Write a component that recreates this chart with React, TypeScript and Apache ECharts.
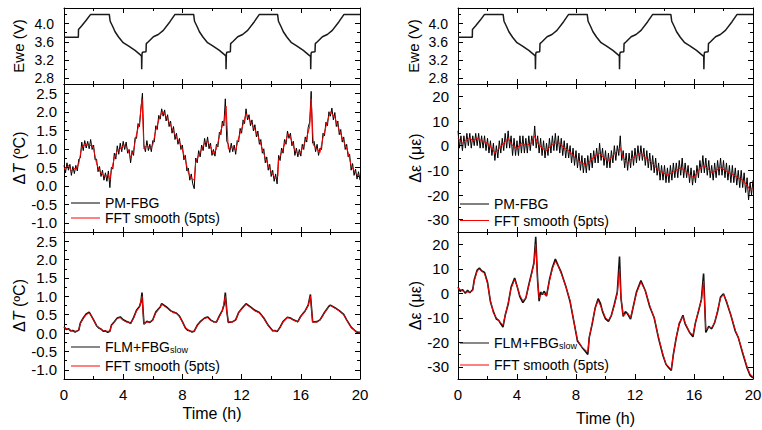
import React, { useEffect, useRef } from 'react';
import * as echarts from 'echarts';

const FONT = '"Liberation Sans", Arial, Helvetica, sans-serif';
const INK = '#000000';
const RED = '#ff0000';

// ---------- tick values ----------
const eweMajor = [2.8, 3.2, 3.6, 4.0];
const eweMinor = [3.0, 3.4, 3.8, 4.2];
const dTMajor = [-1.0, -0.5, 0, 0.5, 1.0, 1.5, 2.0, 2.5];
const dTMinor = [-0.75, -0.25, 0.25, 0.75, 1.25, 1.75, 2.25];
const dEMajor = [-30, -20, -10, 0, 10, 20];
const dEMinor = [-25, -15, -5, 5, 15];

// ---------- cell voltage (h, V) ----------
const eweCurve: [number, number][] = [
  [0, 3.7], [0.97, 3.7], [0.98, 3.87], [1.2, 3.95], [1.5, 4.07], [1.8, 4.2],
  [3.06, 4.2], [3.12, 4.05], [3.3, 3.93], [3.45, 3.82], [3.7, 3.7], [4.0, 3.58], [4.35, 3.51],
  [4.8, 3.41], [5.14, 3.32], [5.24, 3.28], [5.25, 3.0], [5.27, 3.33], [5.3, 3.37], [5.54, 3.38],
  [5.56, 3.56], [5.7, 3.6], [6.04, 3.71], [6.37, 3.76], [6.71, 3.85], [7.16, 4.04], [7.5, 4.2],
  [8.76, 4.2], [8.82, 4.05], [9.0, 3.93], [9.15, 3.82], [9.4, 3.7], [9.7, 3.58], [10.05, 3.51],
  [10.5, 3.41], [10.84, 3.32], [10.94, 3.28], [10.95, 3.0], [10.97, 3.33], [11.0, 3.37], [11.24, 3.38],
  [11.26, 3.56], [11.4, 3.6], [11.74, 3.71], [12.07, 3.76], [12.41, 3.85], [12.86, 4.04], [13.2, 4.2],
  [14.43, 4.2], [14.49, 4.05], [14.67, 3.93], [14.82, 3.82], [15.07, 3.7], [15.37, 3.58], [15.72, 3.51],
  [16.17, 3.41], [16.51, 3.32], [16.66, 3.28], [16.67, 3.0], [16.69, 3.33], [16.72, 3.37], [16.96, 3.38],
  [16.98, 3.56], [17.12, 3.6], [17.46, 3.71], [17.79, 3.76], [18.13, 3.85], [18.58, 4.04], [18.92, 4.2],
  [20, 4.2],
];

// ---------- ΔT, PM-FBG raw (sampled every 0.1 h) ----------
const dtPmRaw = [
  0.55, 0.35, 0.62, 0.42, 0.58, 0.28, 0.52, 0.33, 0.55, 0.40,
  0.72, 0.75, 1.18, 0.95, 1.22, 1.02, 1.20, 1.00, 1.25, 0.98,
  1.10, 0.70, 0.72, 0.38, 0.52, 0.25, 0.42, 0.15, 0.35, 0.12,
  0.40, -0.05, 0.50, 0.45, 0.88, 0.72, 1.08, 0.85, 1.15, 0.92,
  1.20, 0.98, 1.18, 0.88, 0.98, 0.62, 0.95, 0.82, 1.30, 1.28,
  1.68, 1.60, 2.10, 2.50, 1.10, 0.92, 1.22, 0.95, 1.12, 0.92,
  1.22, 1.18, 1.62, 1.52, 1.90, 1.80, 2.08, 1.88, 2.05, 1.75,
  1.92, 1.60, 1.75, 1.42, 1.60, 1.25, 1.42, 1.12, 1.28, 0.98,
  1.10, 0.70, 0.82, 0.40, 0.48, 0.15, 0.32, 0.05, -0.08, 0.75,
  0.62, 0.95, 0.78, 1.10, 0.95, 1.28, 1.05, 1.32, 1.00, 1.15,
  0.82, 0.98, 0.80, 1.12, 1.05, 1.45, 1.38, 1.75, 1.62, 2.35,
  1.20, 1.12, 0.90, 1.15, 0.92, 1.10, 0.85, 1.22, 1.18, 1.55,
  1.42, 1.78, 1.68, 2.08, 1.78, 1.92, 1.62, 1.78, 1.48, 1.65,
  1.32, 1.48, 1.12, 1.25, 0.88, 1.00, 0.62, 0.78, 0.42, 0.58,
  0.25, 0.42, 0.12, 0.32, 0.05, 0.82, 0.68, 1.02, 0.88, 1.25,
  1.12, 1.48, 1.28, 1.42, 1.08, 1.20, 0.82, 1.02, 0.78, 0.98,
  0.80, 1.12, 0.98, 1.32, 1.18, 1.58, 1.72, 2.55, 1.15, 1.20,
  0.92, 1.12, 0.82, 1.02, 0.98, 1.42, 1.35, 1.72, 1.62, 2.00,
  1.88, 2.10, 1.78, 1.98, 1.60, 1.75, 1.38, 1.52, 1.18, 1.32,
  0.98, 1.12, 0.78, 0.85, 0.42, 0.60, 0.28, 0.45, 0.18, 0.38,
  0.15,
];
const rawStep = 0.1;

// ---------- ΔT, PM-FBG FFT smooth ----------
const dtPmSmooth: [number, number][] = [
  [0, 0.45], [0.15, 0.5], [0.3, 0.55], [0.5, 0.4], [0.65, 0.47], [0.8, 0.45], [1.0, 0.6], [1.2, 1.05],
  [1.35, 1.1], [1.5, 1.12], [1.7, 1.08], [1.9, 1.1], [2.0, 1.0], [2.2, 0.6], [2.4, 0.4], [2.6, 0.3],
  [2.8, 0.25], [3.0, 0.3], [3.1, 0.15], [3.2, 0.4], [3.4, 0.75], [3.6, 0.95], [3.75, 0.98], [3.9, 1.05],
  [4.1, 1.1], [4.3, 1.0], [4.5, 0.75], [4.7, 0.95], [4.9, 1.4], [5.1, 1.7], [5.27, 2.35], [5.4, 1.0],
  [5.6, 1.1], [5.8, 1.0], [6.0, 1.1], [6.2, 1.5], [6.5, 1.9], [6.7, 2.0], [7.0, 1.8], [7.3, 1.55],
  [7.6, 1.3], [7.9, 1.1], [8.2, 0.7], [8.4, 0.35], [8.6, 0.2], [8.8, 0.15], [8.9, 0.65], [9.2, 0.9],
  [9.5, 1.15], [9.7, 1.2], [9.9, 1.05], [10.1, 0.85], [10.3, 1.0], [10.6, 1.5], [10.85, 1.8], [10.95, 2.15],
  [11.1, 1.0], [11.4, 1.05], [11.6, 0.95], [11.8, 1.3], [12.1, 1.65], [12.3, 1.95], [12.5, 1.8], [12.8, 1.6],
  [13.1, 1.35], [13.4, 1.0], [13.6, 0.75], [13.8, 0.55], [14.1, 0.3], [14.3, 0.2], [14.45, 0.25], [14.5, 0.7],
  [14.8, 1.0], [15.1, 1.35], [15.2, 1.4], [15.4, 1.2], [15.6, 0.95], [15.9, 0.85], [16.1, 1.0], [16.4, 1.3],
  [16.6, 1.6], [16.7, 2.35], [16.85, 1.1], [17.1, 1.0], [17.3, 0.9], [17.5, 1.3], [17.8, 1.75], [18.0, 2.0],
  [18.3, 1.85], [18.6, 1.5], [18.9, 1.2], [19.2, 0.9], [19.4, 0.55], [19.6, 0.4], [19.8, 0.3], [20, 0.25],
];

// ---------- ΔT, FLM+FBG slow ----------
const dtFlmRaw: [number, number][] = [
  [0, 0.17], [0.15, 0.1], [0.3, 0.12], [0.45, 0.06], [0.6, 0.07], [0.75, 0.03], [0.9, 0.06], [1.0, 0.08],
  [1.1, 0.27], [1.3, 0.41], [1.5, 0.52], [1.7, 0.57], [1.8, 0.5], [2.0, 0.36], [2.2, 0.2], [2.35, 0.14],
  [2.5, 0.11], [2.65, 0.05], [2.8, 0.06], [2.95, 0.02], [3.1, 0.05], [3.2, 0.21], [3.4, 0.31], [3.6, 0.41],
  [3.8, 0.44], [4.0, 0.36], [4.2, 0.32], [4.4, 0.29], [4.5, 0.26], [4.7, 0.42], [4.9, 0.62], [5.1, 0.72],
  [5.2, 0.85], [5.27, 1.1], [5.4, 0.24], [5.6, 0.32], [5.8, 0.29], [6.0, 0.36], [6.2, 0.57], [6.5, 0.71],
  [6.6, 0.8], [6.9, 0.72], [7.2, 0.61], [7.4, 0.57], [7.6, 0.54], [7.8, 0.46], [8.0, 0.31], [8.2, 0.14],
  [8.35, 0.08], [8.5, 0.06], [8.65, 0.03], [8.8, 0.05], [9.0, 0.21], [9.2, 0.31], [9.5, 0.41], [9.7, 0.44],
  [9.9, 0.36], [10.1, 0.31], [10.3, 0.3], [10.5, 0.47], [10.7, 0.62], [10.82, 0.78], [10.9, 1.1], [11.0, 0.6],
  [11.1, 0.29], [11.4, 0.31], [11.6, 0.36], [11.8, 0.56], [12.1, 0.71], [12.3, 0.8], [12.6, 0.71], [12.9, 0.62],
  [13.2, 0.56], [13.5, 0.41], [13.8, 0.21], [14.1, 0.06], [14.25, 0.07], [14.4, 0.04], [14.6, 0.16], [14.8, 0.31],
  [15.1, 0.43], [15.3, 0.41], [15.5, 0.36], [15.8, 0.31], [16.0, 0.46], [16.3, 0.61], [16.5, 0.76], [16.65, 1.05],
  [16.8, 0.3], [17.1, 0.31], [17.3, 0.36], [17.6, 0.56], [17.9, 0.73], [18.0, 0.76], [18.3, 0.69], [18.6, 0.61],
  [18.9, 0.51], [19.1, 0.36], [19.4, 0.16], [19.7, 0.05], [19.85, 0.01], [20, 0.02],
];
const dtFlmSmooth: [number, number][] = [
  [0, 0.15], [0.3, 0.1], [0.6, 0.05], [0.9, 0.05], [1.0, 0.1], [1.1, 0.25], [1.3, 0.4], [1.5, 0.5],
  [1.7, 0.55], [1.8, 0.5], [2.0, 0.35], [2.2, 0.2], [2.5, 0.1], [2.8, 0.05], [3.1, 0.05], [3.2, 0.2],
  [3.4, 0.3], [3.6, 0.4], [3.8, 0.42], [4.0, 0.35], [4.2, 0.3], [4.4, 0.3], [4.5, 0.25], [4.7, 0.4],
  [4.9, 0.6], [5.1, 0.7], [5.27, 1.0], [5.4, 0.25], [5.6, 0.3], [5.8, 0.3], [6.0, 0.35], [6.2, 0.55],
  [6.5, 0.7], [6.6, 0.78], [6.9, 0.7], [7.2, 0.6], [7.4, 0.55], [7.6, 0.55], [7.8, 0.45], [8.0, 0.3],
  [8.2, 0.15], [8.5, 0.05], [8.8, 0.05], [9.0, 0.2], [9.2, 0.3], [9.5, 0.4], [9.7, 0.42], [9.9, 0.35],
  [10.1, 0.3], [10.3, 0.3], [10.5, 0.45], [10.7, 0.6], [10.9, 1.0], [11.0, 0.6], [11.1, 0.3], [11.4, 0.3],
  [11.6, 0.35], [11.8, 0.55], [12.1, 0.7], [12.3, 0.78], [12.6, 0.7], [12.9, 0.6], [13.2, 0.55], [13.5, 0.4],
  [13.8, 0.2], [14.1, 0.07], [14.4, 0.05], [14.6, 0.15], [14.8, 0.3], [15.1, 0.42], [15.3, 0.4], [15.5, 0.35],
  [15.8, 0.3], [16.0, 0.45], [16.3, 0.6], [16.5, 0.75], [16.65, 1.0], [16.8, 0.3], [17.1, 0.3], [17.3, 0.35],
  [17.6, 0.55], [17.9, 0.72], [18.0, 0.75], [18.3, 0.68], [18.6, 0.6], [18.9, 0.5], [19.1, 0.35], [19.4, 0.15],
  [19.7, 0.05], [20, 0.02],
];

// ---------- Δε, PM-FBG raw (sampled every 0.1 h) ----------
const dePmRaw = [
  6, -1, 4, -2, 4, -1, 5, 0, 5, -1,
  4, 0, 5, 0, 5, -1, 4, -1, 4, -2,
  3, -3, 2, -4, 1, -6, 0, -5, 2, -3,
  3, -2, 5, -1, 6, -1, 4, -4, 3, -4,
  2, -4, 4, -3, 4, -3, 3, -3, 4, -2,
  4, 0, 8, -1, 4, -3, 3, -4, 2, -5,
  1, -4, 3, -3, 4, -2, 5, -2, 4, -3,
  3, -4, 2, -5, 1, -5, 0, -7, -1, -8,
  -2, -9, -3, -10, -4, -11, -5, -11, -4, -10,
  -3, -9, -2, -7, -1, -7, 1, -6, -1, -8,
  -2, -9, -3, -9, -2, -7, 0, -6, 0, -4,
  4, -6, -2, -9, -3, -10, -3, -9, -2, -8,
  -1, -7, 0, -6, 0, -6, -1, -8, -2, -9,
  -3, -10, -4, -11, -5, -12, -7, -14, -8, -14,
  -8, -15, -9, -15, -8, -14, -7, -13, -7, -13,
  -6, -12, -5, -13, -7, -13, -8, -15, -9, -16,
  -10, -15, -8, -13, -6, -11, -4, -11, -5, -12,
  -6, -13, -8, -14, -7, -13, -6, -12, -5, -12,
  -6, -13, -7, -14, -8, -15, -8, -15, -9, -16,
  -10, -17, -10, -17, -11, -19, -13, -22, -15, -20,
  -14,
];
const dePmSmooth: [number, number][] = [
  [0, 3], [0.3, 1], [0.5, 2], [0.8, 3], [1.0, 2], [1.3, 3], [1.6, 2], [2.0, 1], [2.3, -1], [2.5, -3],
  [2.8, -1], [3.1, 1], [3.4, 3], [3.7, 0], [4.0, -1], [4.3, 1], [4.6, 0], [5.0, 1], [5.2, 4], [5.4, 1],
  [5.7, -1], [6.0, -2], [6.3, 0], [6.6, 1], [6.9, 1], [7.2, -1], [7.5, -2], [7.8, -4], [8.1, -6], [8.4, -7],
  [8.7, -8], [9.0, -6], [9.3, -4], [9.6, -3], [9.9, -5], [10.2, -6], [10.5, -4], [10.8, -2], [11.0, -1], [11.2, -5],
  [11.5, -7], [11.8, -5], [12.1, -4], [12.4, -3], [12.7, -5], [13.0, -6], [13.3, -8], [13.6, -10], [13.9, -11], [14.2, -12],
  [14.5, -11], [14.8, -10], [15.1, -9], [15.4, -10], [15.7, -12], [16.0, -13], [16.3, -10], [16.6, -8], [16.9, -9], [17.2, -11],
  [17.5, -10], [17.8, -9], [18.1, -10], [18.4, -11], [18.7, -12], [19.0, -13], [19.3, -14], [19.6, -16], [19.8, -18], [20, -17],
];

// ---------- Δε, FLM+FBG slow ----------
const deFlmRaw: [number, number][] = [
  [0, 2.5], [0.15, 0.8], [0.3, 1.5], [0.5, 0], [0.65, 1.2], [0.8, 0.2], [1.0, 1.5], [1.1, 5.5], [1.3, 9.5],
  [1.45, 10.3], [1.6, 9.2], [1.8, 8.5], [2.0, 4.5], [2.2, -3.5], [2.4, -7.5], [2.6, -10.5], [2.75, -11],
  [2.9, -12.5], [3.05, -13.8], [3.2, -9], [3.4, -4.5], [3.6, 2.5], [3.84, 6.2], [4.0, 3], [4.2, -1.5],
  [4.4, -3.8], [4.6, -2], [4.8, 3.5], [5.0, 8.5], [5.15, 12.5], [5.27, 23], [5.4, 5], [5.5, -3.2],
  [5.6, 0.5], [5.7, -0.5], [5.85, 0.8], [6.0, -1.2], [6.2, 5.5], [6.4, 10.5], [6.6, 14], [6.8, 11.2],
  [7.0, 8.5], [7.3, 3], [7.6, -3.5], [7.9, -13], [8.1, -19.5], [8.4, -22], [8.6, -23.5], [8.8, -25],
  [8.9, -18], [9.1, -12.5], [9.3, -6], [9.5, -2.2], [9.65, -4], [9.8, -7.5], [10.0, -10.5], [10.2, -11.5],
  [10.4, -9], [10.6, -4.5], [10.8, 0.5], [10.95, 15], [11.05, -2], [11.2, -9.5], [11.35, -7.5], [11.5, -8.5],
  [11.7, -10.5], [11.9, -5], [12.1, 0.5], [12.4, 5.2], [12.7, 1], [13.0, -5.5], [13.3, -10], [13.6, -18.5],
  [13.9, -25.5], [14.1, -29], [14.3, -30.5], [14.46, -31.5], [14.6, -25], [14.8, -18], [15.0, -12.5], [15.25, -9],
  [15.4, -12.5], [15.7, -16], [15.93, -17.8], [16.1, -12], [16.3, -7.5], [16.5, -2.5], [16.65, 8], [16.8, -16],
  [17.0, -13.5], [17.2, -14.5], [17.4, -12], [17.6, -7.5], [17.8, -1.5], [18.0, -0.2], [18.2, -3.5], [18.5, -9],
  [18.8, -15.5], [19.0, -18], [19.3, -24.5], [19.6, -30.5], [19.8, -33.5], [20, -34.5],
];
const deFlmSmooth: [number, number][] = [
  [0, 2], [0.3, 1], [0.5, 0.5], [0.8, 0.5], [1.0, 1], [1.1, 5], [1.3, 9], [1.45, 9.8], [1.8, 8], [2.0, 4],
  [2.2, -3], [2.4, -8], [2.6, -10], [2.9, -12], [3.05, -13], [3.2, -9], [3.4, -4], [3.6, 2], [3.84, 5.5], [4.0, 3],
  [4.2, -1], [4.4, -3], [4.6, -2], [4.8, 3], [5.0, 8], [5.15, 12], [5.27, 20], [5.4, 5], [5.5, -2], [5.7, 0],
  [6.0, -1], [6.2, 5], [6.4, 10], [6.6, 13], [6.8, 11], [7.0, 8], [7.3, 3], [7.6, -3], [7.9, -13], [8.1, -19],
  [8.4, -22], [8.8, -24], [8.9, -18], [9.1, -12], [9.3, -6], [9.5, -3], [9.8, -7], [10.0, -10], [10.2, -11], [10.4, -9],
  [10.6, -5], [10.8, 0], [10.95, 10], [11.05, -2], [11.2, -9], [11.5, -8], [11.7, -10], [11.9, -5], [12.1, 0], [12.4, 4.5],
  [12.7, 1], [13.0, -5], [13.3, -10], [13.6, -18], [13.9, -25], [14.1, -29], [14.3, -30], [14.46, -31], [14.6, -25], [14.8, -18],
  [15.0, -12], [15.25, -9.5], [15.4, -12], [15.7, -16], [15.93, -17], [16.1, -12], [16.3, -7], [16.5, -3], [16.65, 5], [16.8, -15],
  [17.0, -14], [17.2, -14], [17.4, -12], [17.6, -7], [17.8, -2], [18.0, -0.5], [18.2, -3], [18.5, -9], [18.8, -15], [19.0, -18],
  [19.3, -24], [19.6, -30], [19.8, -33], [20, -34],
];

// ---------- names ----------
const nameRaw = 'PM-FBG';
const nameSlow = 'FLM+FBGslow';
const nameSmooth = 'FFT smooth (5pts)';

type PanelCfg = {
  left: number; width: number; top: number; height: number;
  yMin: number; yMax: number; major: number[]; minor: number[];
  labelSize: number; decimals: number; labelMargin: number;
  yName: string; yNameGap: number; yNameSize: number;
  showX: boolean; xNameGap: number;
};

const LEFT_X = 64, LEFT_W = 296, RIGHT_X = 458, RIGHT_W = 295;
const ROWS = [
  { top: 8, height: 76 },
  { top: 84, height: 148 },
  { top: 232, height: 147 },
];

const dTName = '{d|Δ}{i|T}{d| (ºC)}';

const panels: PanelCfg[] = [
  { left: LEFT_X, width: LEFT_W, ...ROWS[0], yMin: 2.675, yMax: 4.34, major: eweMajor, minor: eweMinor, labelSize: 14, decimals: 1, labelMargin: 10, yName: 'Ewe (V)', yNameGap: 38, yNameSize: 15, showX: false, xNameGap: 0 },
  { left: LEFT_X, width: LEFT_W, ...ROWS[1], yMin: -1.25, yMax: 2.75, major: dTMajor, minor: dTMinor, labelSize: 15, decimals: 1, labelMargin: 7, yName: dTName, yNameGap: 35, yNameSize: 16, showX: false, xNameGap: 0 },
  { left: LEFT_X, width: LEFT_W, ...ROWS[2], yMin: -1.25, yMax: 2.75, major: dTMajor, minor: dTMinor, labelSize: 15, decimals: 1, labelMargin: 7, yName: dTName, yNameGap: 35, yNameSize: 16, showX: true, xNameGap: 26 },
  { left: RIGHT_X, width: RIGHT_W, ...ROWS[0], yMin: 2.675, yMax: 4.34, major: eweMajor, minor: eweMinor, labelSize: 14, decimals: 1, labelMargin: 10, yName: 'Ewe (V)', yNameGap: 37, yNameSize: 15, showX: false, xNameGap: 0 },
  { left: RIGHT_X, width: RIGHT_W, ...ROWS[1], yMin: -35, yMax: 25, major: dEMajor, minor: dEMinor, labelSize: 15, decimals: 0, labelMargin: 9, yName: 'Δε (με)', yNameGap: 30, yNameSize: 16, showX: false, xNameGap: 0 },
  { left: RIGHT_X, width: RIGHT_W, ...ROWS[2], yMin: -35, yMax: 25, major: dEMajor, minor: dEMinor, labelSize: 15, decimals: 0, labelMargin: 9, yName: 'Δε (με)', yNameGap: 30, yNameSize: 16, showX: true, xNameGap: 31 },
];

function buildOption() {
  const grid: any[] = [];
  const xAxis: any[] = [];
  const yAxis: any[] = [];
  const lineStyle = { color: INK, width: 1 };

  panels.forEach((p, g) => {
    grid.push({ left: p.left, top: p.top, width: p.width, height: p.height, containLabel: false, outerBoundsMode: 'none' });
    const xBase = {
      type: 'value', gridIndex: g, min: 0, max: 20, interval: 4,
      axisLine: { show: true, onZero: false, lineStyle },
      axisTick: { show: true, inside: true, length: 5, lineStyle },
      minorTick: { show: true, splitNumber: 2, length: 3, lineStyle },
      splitLine: { show: false }, minorSplitLine: { show: false },
    };
    xAxis.push({
      ...xBase, position: 'bottom',
      axisLabel: { show: p.showX, fontSize: 15, fontFamily: FONT, color: INK, margin: 8 },
      name: p.showX ? 'Time (h)' : '', nameLocation: 'middle', nameGap: p.xNameGap,
      nameTextStyle: { fontSize: 16, fontFamily: FONT, color: INK },
    });
    xAxis.push({ ...xBase, position: 'top', axisLabel: { show: false } });

    const yBase = {
      type: 'value', gridIndex: g, min: p.yMin, max: p.yMax,
      splitLine: { show: false },
    };
    const fmt = (v: number) => v.toFixed(p.decimals);
    yAxis.push({
      ...yBase, position: 'left',
      axisLine: { show: true, onZero: false, lineStyle },
      axisTick: { show: true, inside: true, length: 5, lineStyle, customValues: p.major },
      axisLabel: { show: true, customValues: p.major, formatter: fmt, fontSize: p.labelSize, fontFamily: FONT, color: INK, margin: p.labelMargin },
      name: p.yName, nameLocation: 'middle', nameGap: p.yNameGap,
      nameTextStyle: {
        fontSize: p.yNameSize, fontFamily: FONT, color: INK,
        rich: {
          d: { fontSize: p.yNameSize, fontFamily: FONT, color: INK },
          i: { fontSize: p.yNameSize, fontFamily: FONT, color: INK, fontStyle: 'italic' },
        },
      },
    });
    yAxis.push({
      ...yBase, position: 'left',
      axisLine: { show: false, onZero: false },
      axisTick: { show: true, inside: true, length: 3, lineStyle, customValues: p.minor },
      axisLabel: { show: false },
    });
    yAxis.push({
      ...yBase, position: 'right',
      axisLine: { show: true, onZero: false, lineStyle },
      axisTick: { show: true, inside: true, length: 5, lineStyle, customValues: p.major },
      axisLabel: { show: false },
    });
    yAxis.push({
      ...yBase, position: 'right',
      axisLine: { show: false, onZero: false },
      axisTick: { show: true, inside: true, length: 3, lineStyle, customValues: p.minor },
      axisLabel: { show: false },
    });
  });

  const line = (name: string, g: number, data: any[], color: string, width: number, z: number) => ({
    type: 'line', name, xAxisIndex: 2 * g, yAxisIndex: 4 * g, data,
    symbol: 'none', showSymbol: false, smooth: false, silent: true, z,
    lineStyle: { color, width }, itemStyle: { color },
  });
  const evenRaw = (vals: number[]) => vals.map((v, i) => [+(i * rawStep).toFixed(2), v]);

  const series = [
    line('Ewe', 0, eweCurve, '#1a1a1a', 1.5, 2),
    line(nameRaw, 1, evenRaw(dtPmRaw), INK, 1, 2),
    line(nameSmooth, 1, dtPmSmooth, RED, 1, 3),
    line(nameSlow, 2, dtFlmRaw, '#111111', 1.6, 2),
    line(nameSmooth, 2, dtFlmSmooth, RED, 1, 3),
    line('Ewe ', 3, eweCurve, '#1a1a1a', 1.5, 2),
    line(nameRaw, 4, evenRaw(dePmRaw), INK, 1, 2),
    line(nameSmooth, 4, dePmSmooth, RED, 1, 3),
    line(nameSlow, 5, deFlmRaw, '#111111', 1.6, 2),
    line(nameSmooth, 5, deFlmSmooth, RED, 1, 3),
  ];

  const legendText = {
    fontSize: 14, fontFamily: FONT, color: INK, lineHeight: 14,
    rich: {
      n: { fontSize: 14, fontFamily: FONT, color: INK, lineHeight: 14 },
      s: { fontSize: 9, fontFamily: FONT, color: INK, verticalAlign: 'bottom', padding: [7, 0, 0, 0] },
    },
  };
  const legendFmt = (name: string) => (name === nameSlow ? '{n|FLM+FBG}{s|slow}' : '{n|' + name + '}');
  const legendBase = {
    orient: 'vertical', itemWidth: 29, itemHeight: 1, icon: 'rect', selectedMode: false,
    textStyle: legendText, formatter: legendFmt, padding: 0,
  };
  const legend = [
    { ...legendBase, data: [nameRaw, nameSmooth], left: 71, top: 196, itemGap: 1 },
    { ...legendBase, data: [nameSlow, nameSmooth], left: 71, top: 340, itemGap: 5 },
    { ...legendBase, data: [nameRaw, nameSmooth], left: 460, top: 197, itemGap: 2.5 },
    { ...legendBase, data: [nameSlow, nameSmooth], left: 460, top: 336, itemGap: 8 },
  ];

  return {
    animation: false,
    backgroundColor: '#ffffff',
    textStyle: { fontFamily: FONT },
    grid, xAxis, yAxis, series, legend,
  };
}

export default function App() {
  const ref = useRef<HTMLDivElement>(null);
  useEffect(() => {
    if (!ref.current) return;
    const chart = echarts.init(ref.current, null, { renderer: 'svg' });
    chart.setOption(buildOption() as any);
    return () => chart.dispose();
  }, []);
  return (
    <div
      ref={ref}
      style={{ position: 'fixed', left: 0, top: 0, width: 762, height: 430, background: '#fff' }}
    />
  );
}
